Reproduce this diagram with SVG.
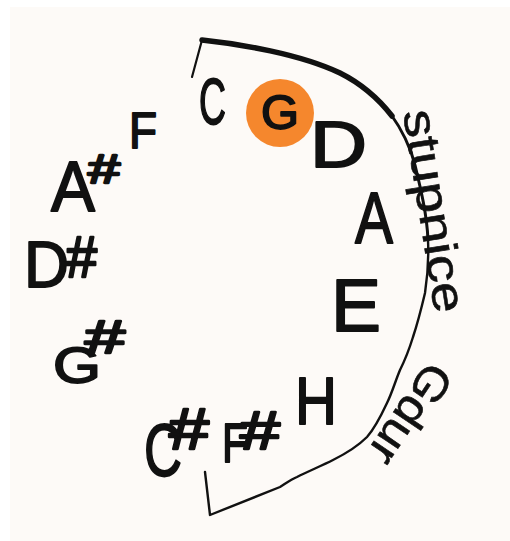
<svg xmlns="http://www.w3.org/2000/svg" width="510" height="541" viewBox="0 0 510 541">
  <style>
    .n { font-family: "Liberation Sans", Arial, sans-serif; fill: #111; stroke: #111; stroke-width: 1.8; stroke-linejoin: round; }
    .s { stroke-width: 2.4; }
    .w { font-family: "Liberation Sans", Arial, sans-serif; fill: #111; stroke: #111; stroke-width: 0.6; font-size: 46px; }
    .ln { fill: none; stroke: #111; stroke-linecap: round; stroke-linejoin: round; }
  </style>
  <rect x="0" y="0" width="510" height="541" fill="#ffffff"/>
  <rect x="10" y="7" width="500" height="534" fill="#FDFAF7"/>

  <g id="connectors">
    <path class="ln" stroke-width="2.2" d="M192,77 L202,40"/>
    <path class="ln" stroke-width="5.5" d="M202,40 C240,44 300,54 340,73 C360,83 378,98 392,116"/>
    <path class="ln" stroke-width="3" d="M390,113 C400,127 410,145 415,165 C421,190 427,215 428,240"/>
    <path class="ln" stroke-width="2.4" d="M428,240 C429,262 427,280 425,293 C421,310 417,325 413,337 C409,350 405,360 400,370 C395,382 392,393 387,403 C380,418 375,428 367,437 C357,447 347,453 333,460 C321,466 309,471 297,477 C290,480 285,484 280,487 C260,495 235,505 210,515 L205,472"/>
  </g>

  <g id="note-C"><text class="n"><tspan x="199" y="124" font-size="64" textLength="27" lengthAdjust="spacingAndGlyphs">C</tspan></text></g>
  <g id="note-G">
    <circle cx="280" cy="113" r="34" fill="#F5872D"/>
    <text class="n" stroke-width="2.2"><tspan x="261" y="129" font-size="48" textLength="38" lengthAdjust="spacingAndGlyphs">G</tspan></text>
  </g>
  <g id="note-D"><text class="n"><tspan x="310" y="167" font-size="64" textLength="57" lengthAdjust="spacingAndGlyphs">D</tspan></text></g>
  <g id="note-A"><text class="n"><tspan x="355" y="243" font-size="72" textLength="38" lengthAdjust="spacingAndGlyphs">A</tspan></text></g>
  <g id="note-E"><text class="n"><tspan x="331" y="331" font-size="74" textLength="50" lengthAdjust="spacingAndGlyphs">E</tspan></text></g>
  <g id="note-H"><text class="n"><tspan x="295" y="424" font-size="66" textLength="42" lengthAdjust="spacingAndGlyphs">H</tspan></text></g>
  <g id="note-Fis"><text class="n"><tspan x="222" y="462" font-size="56" textLength="26" lengthAdjust="spacingAndGlyphs">F</tspan><tspan class="s" x="240" y="449" font-size="54" textLength="40" lengthAdjust="spacingAndGlyphs">#</tspan></text></g>
  <g id="note-Cis"><text class="n"><tspan x="144" y="476" font-size="74" textLength="38" lengthAdjust="spacingAndGlyphs">C</tspan><tspan class="s" x="169" y="449" font-size="58" textLength="40" lengthAdjust="spacingAndGlyphs">#</tspan></text></g>
  <g id="note-Gis"><text class="n"><tspan x="53" y="383" font-size="50" textLength="48" lengthAdjust="spacingAndGlyphs">G</tspan><tspan class="s" x="85" y="353" font-size="46" textLength="40" lengthAdjust="spacingAndGlyphs">#</tspan></text></g>
  <g id="note-Dis"><text class="n"><tspan x="24" y="287" font-size="64" textLength="45" lengthAdjust="spacingAndGlyphs">D</tspan><tspan class="s" x="66" y="277" font-size="58" textLength="31" lengthAdjust="spacingAndGlyphs">#</tspan></text></g>
  <g id="note-Ais"><text class="n"><tspan x="51" y="211" font-size="70" textLength="44" lengthAdjust="spacingAndGlyphs">A</tspan><tspan class="s" x="88" y="183" font-size="40" textLength="32" lengthAdjust="spacingAndGlyphs">#</tspan></text></g>
  <g id="note-F"><text class="n"><tspan x="129" y="148" font-size="50" textLength="28" lengthAdjust="spacingAndGlyphs">F</tspan></text></g>

  <g id="label-stupnice"><text class="w" transform="translate(403,112) rotate(81)" textLength="205" lengthAdjust="spacingAndGlyphs">stupnice</text></g>
  <g id="label-Gdur"><text class="w" transform="translate(429,359) rotate(124)" textLength="112" lengthAdjust="spacingAndGlyphs">Gdur</text></g>
</svg>
